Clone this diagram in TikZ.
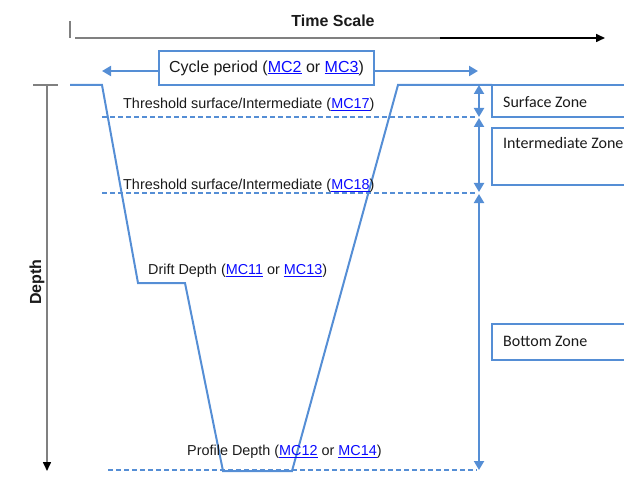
\documentclass[tikz,border=0pt]{standalone}
\usepackage{fontspec}
\setmainfont{Liberation Sans}
\newfontfamily\calibrifont{Carlito}
\usetikzlibrary{arrows.meta}
\definecolor{lineblue}{RGB}{85,142,213}
\definecolor{linkblue}{RGB}{10,10,255}
\definecolor{txt}{RGB}{26,26,26}
\definecolor{axisgray}{RGB}{128,128,128}
\newcommand{\lnk}[1]{\textcolor{linkblue}{\underline{#1}}}
\begin{document}
\begin{tikzpicture}[x=1pt,y=-1pt,
  lbl/.style={inner sep=0pt, text=txt, font=\fontsize{14.4}{17}\selectfont},
  zonelbl/.style={inner sep=0pt, anchor=west, text=txt, font=\calibrifont\fontsize{16}{19}\selectfont},
  zonebox/.style={draw=lineblue, line width=1.3pt},
  profile/.style={draw=lineblue, line width=2pt, line join=miter},
  thresh/.style={draw=lineblue, line width=1.3pt, dash pattern=on 5pt off 3pt},
  zarrow/.style={draw=lineblue, line width=2pt, {Triangle[width=10pt,length=9pt]}-{Triangle[width=10pt,length=9pt]}},
  carrow/.style={draw=lineblue, line width=2pt, -{Triangle[width=10pt,length=9pt]}},
  axis/.style={draw=axisgray, line width=1.6pt},
  ]
\useasboundingbox (0,0) rectangle (624,484);

% time axis
\node[inner sep=0pt, text=txt, font=\bfseries\fontsize{16}{19}\selectfont] (ts) at (333,21) {Time Scale};
\coordinate (tick1) at (70,21);
\coordinate (tick2) at (70,38);
\draw[axis] (tick1) -- (tick2);
\coordinate (ta) at (75,38);
\coordinate (tm) at (440,38);
\coordinate (tb) at (605,38);
\draw[axis] (ta) -- (tm);
\draw[black, line width=1.6pt, -{Triangle[width=8pt,length=9pt]}] (tm) -- (tb);

% depth axis
\node[inner sep=0pt, rotate=90, text=txt, font=\bfseries\fontsize{16}{19}\selectfont] (dp) at (37,282) {Depth};
\coordinate (dt1) at (33,85);
\coordinate (dt2) at (58,85);
\coordinate (dtop) at (47,85);
\coordinate (dbot) at (47,471);
\draw[axis] (dt1) -- (dt2);
\draw[axis, -{Triangle[width=8pt,length=9pt,color=black]}] (dtop) -- (dbot);

% cycle period
\node[draw=lineblue, line width=1.3pt, minimum width=215pt, minimum height=34pt, inner sep=0pt,
      font=\fontsize{16}{19}\selectfont, text=txt] (cyc) at (266.5,68) {Cycle period (\lnk{MC2} or \lnk{MC3})};
\coordinate (cl) at (102,71);
\coordinate (cr) at (478,71);
\draw[carrow] (cyc.west |- cl) -- (cl);
\draw[carrow] (cyc.east |- cr) -- (cr);

% profile
\draw[profile] (70,85) -- (102,85) -- (138,283) -- (185,283) -- (223,471) -- (292,471) -- (398,85) -- (492,85);

% threshold lines
\coordinate (t1a) at (102,117); \coordinate (t1b) at (475,117);
\coordinate (t2a) at (102,193); \coordinate (t2b) at (475,193);
\coordinate (t3a) at (108,470); \coordinate (t3b) at (477,470);
\draw[thresh] (t1a) -- (t1b);
\draw[thresh] (t2a) -- (t2b);
\draw[thresh] (t3a) -- (t3b);

% labels
\node[lbl, anchor=west] (l17) at (123,105) {Threshold surface/Intermediate (\lnk{MC17})};
\node[lbl, anchor=west] (l18) at (123,186) {Threshold surface/Intermediate (\lnk{MC18})};
\node[lbl, anchor=west] (ldr) at (148,271) {Drift Depth (\lnk{MC11} or \lnk{MC13})};
\node[lbl, anchor=west] (lpr) at (187,452) {Profile Depth (\lnk{MC12} or \lnk{MC14})};

% zone arrows
\coordinate (z0) at (479,85);
\coordinate (z1a) at (479,117); \coordinate (z1b) at (479,118);
\coordinate (z2a) at (479,192); \coordinate (z2b) at (479,194);
\coordinate (z3) at (479,470);
\draw[zarrow] (z0) -- (z1a);
\draw[zarrow] (z1b) -- (z2a);
\draw[zarrow] (z2b) -- (z3);

% zone boxes
\draw[zonebox] (640,85) -- (492,85) -- (492,117) -- (640,117);
\draw[zonebox] (640,128) -- (492,128) -- (492,185) -- (640,185);
\draw[zonebox] (640,324) -- (492,324) -- (492,360) -- (640,360);
\node[zonelbl] (sz) at (503,102) {Surface Zone};
\node[zonelbl] (iz) at (503,143) {Intermediate Zone};
\node[zonelbl] (bz) at (503,341) {Bottom Zone};
\end{tikzpicture}
\end{document}
